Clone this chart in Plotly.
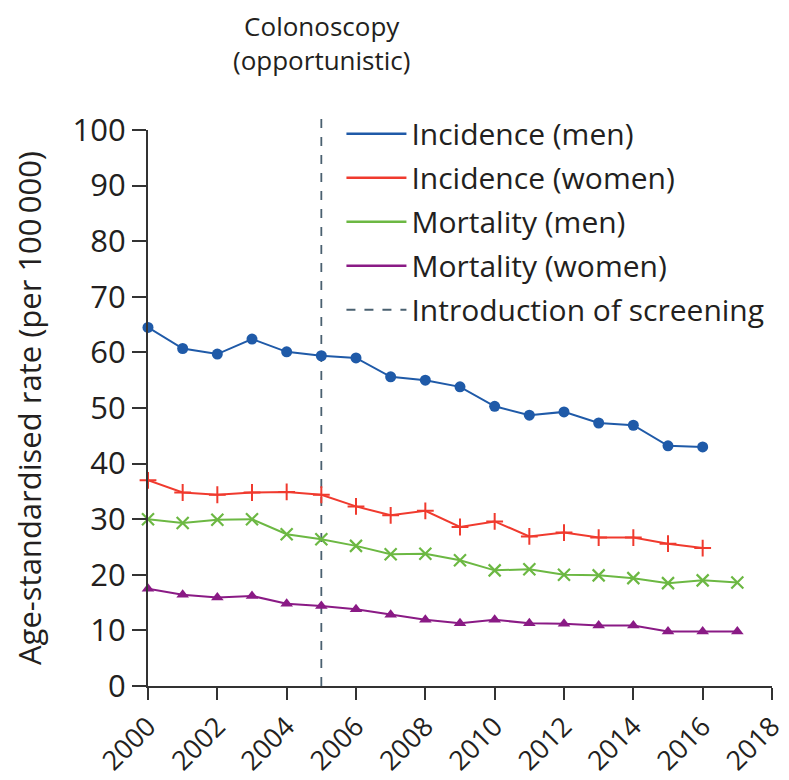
import plotly.graph_objects as go

years_inc = list(range(2000, 2017))
years_mort = list(range(2000, 2018))

incidence_men = [64.5, 60.7, 59.7, 62.4, 60.1, 59.4, 59.0, 55.6, 55.0, 53.8, 50.3, 48.7, 49.3, 47.3, 46.9, 43.2, 43.0]
incidence_women = [37.0, 34.8, 34.4, 34.8, 34.9, 34.4, 32.3, 30.7, 31.5, 28.6, 29.6, 26.9, 27.6, 26.7, 26.7, 25.6, 24.8]
mortality_men = [30.0, 29.3, 29.9, 30.0, 27.3, 26.4, 25.2, 23.7, 23.8, 22.6, 20.8, 21.0, 20.0, 19.9, 19.4, 18.5, 19.0, 18.6]
mortality_women = [17.5, 16.4, 15.9, 16.2, 14.8, 14.4, 13.8, 12.8, 11.9, 11.3, 11.9, 11.3, 11.2, 10.9, 10.9, 9.8, 9.8, 9.8]

screening_year = 2005
x_ticks = list(range(2000, 2019, 2))
y_ticks = list(range(0, 101, 10))

FONT = "Open Sans"
TXT = "#231f20"

series = [
    ("Incidence (men)", years_inc, incidence_men, "#1f5aa8", dict(symbol="circle", size=11)),
    ("Incidence (women)", years_inc, incidence_women, "#f03a2e", dict(symbol="cross-thin", size=12, line=dict(width=2, color="#f03a2e"))),
    ("Mortality (men)", years_mort, mortality_men, "#6cb843", dict(symbol="x-thin", size=12, line=dict(width=2.2, color="#6cb843"))),
    ("Mortality (women)", years_mort, mortality_women, "#8a1a85", dict(symbol="triangle-up", size=11)),
]

fig = go.Figure()
for i, (name, xs, ys, col, mk) in enumerate(series):
    fig.add_trace(go.Scatter(x=xs, y=ys, mode="lines+markers", name=name,
                             line=dict(color=col, width=2), marker=dict(color=col, **mk),
                             showlegend=False, cliponaxis=False))
for i, (name, xs, ys, col, mk) in enumerate(series):
    fig.add_trace(go.Scatter(x=[None], y=[None], mode="lines", name=name,
                             line=dict(color=col, width=2.5), legendgroup=f"g{i}"))
fig.add_trace(go.Scatter(x=[None], y=[None], mode="lines", name="Introduction of screening",
                         line=dict(color="#4a6070", width=2, dash="dash"), legendgroup="g9"))

fig.add_shape(type="line", xref="x", yref="paper", x0=screening_year, x1=screening_year,
              y0=0, y1=1.022, line=dict(color="#4a6070", width=1.8, dash="dash"), layer="below")

fig.add_annotation(text="Colonoscopy<br>(opportunistic)", xref="x", yref="paper",
                   x=screening_year, y=1.156, showarrow=False, yanchor="middle",
                   font=dict(family=FONT, size=26, color=TXT))

fig.update_layout(
    width=781, height=772,
    margin=dict(l=140, r=17, t=122, b=94, autoexpand=False),
    paper_bgcolor="white", plot_bgcolor="white",
    font=dict(family=FONT, size=30, color=TXT),
    legend=dict(x=0.31, y=1.04, xanchor="left", yanchor="top", bgcolor="rgba(0,0,0,0)",
                font=dict(family=FONT, size=30, color=TXT), tracegroupgap=2,
                itemwidth=60),
    xaxis=dict(range=[2000, 2018], tickvals=x_ticks, tickangle=-45, showgrid=False, zeroline=False,
               showline=True, linecolor="#333", linewidth=2, ticks="outside", ticklen=12,
               tickwidth=2, tickcolor="#333", automargin=False,
               tickfont=dict(size=27, family=FONT, color=TXT)),
    yaxis=dict(range=[0, 100], tickvals=y_ticks, showgrid=False, zeroline=False,
               showline=True, linecolor="#333", linewidth=2, ticks="outside", ticklen=14,
               tickwidth=2, tickcolor="#333", automargin=False,
               tickfont=dict(size=31, family=FONT, color=TXT),
               title=dict(text="Age-standardised rate (per 100\u2009000)", standoff=28,
                          font=dict(size=31, family=FONT, color=TXT))),
)

fig.write_html("out.html")
